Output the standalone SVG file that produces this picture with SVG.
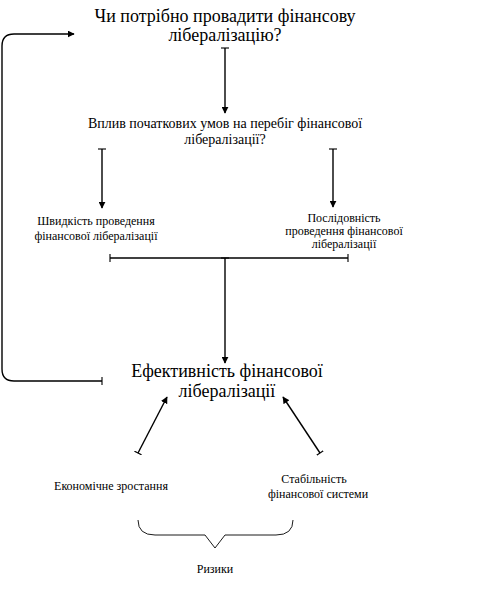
<svg xmlns="http://www.w3.org/2000/svg" width="477" height="599" viewBox="0 0 477 599" font-family="Liberation Serif, DejaVu Serif, serif">
<defs>
<marker id="ah" viewBox="0 0 10 10" refX="9" refY="5" markerWidth="7" markerHeight="7" markerUnits="userSpaceOnUse" orient="auto"><path d="M0,0 L10,5 L0,10 z" fill="#000"/></marker>
<marker id="tk" viewBox="0 0 2 10" refX="1" refY="5" markerWidth="2" markerHeight="8" markerUnits="userSpaceOnUse" orient="auto"><path d="M1,0 L1,10" stroke="#000" stroke-width="1.4"/></marker>
<style>
text{fill:#000;text-anchor:middle}
.big{font-size:18px}
.mid{font-size:14px}
.sm{font-size:12px}
.c{fill:none;stroke:#000;stroke-width:1.4}
</style>
</defs>
<rect width="477" height="599" fill="#fff"/>
<g id="connectors">
<path class="c" d="M225,48 L225,113" marker-start="url(#tk)" marker-end="url(#ah)"/>
<path class="c" d="M102,149 L102,208" marker-start="url(#tk)" marker-end="url(#ah)"/>
<path class="c" d="M333,149 L333,207" marker-start="url(#tk)" marker-end="url(#ah)"/>
<path class="c" d="M110,258 L348,258" marker-start="url(#tk)" marker-end="url(#tk)"/>
<path class="c" d="M225,258 L225,363" marker-start="url(#tk)" marker-end="url(#ah)"/>
<path class="c" d="M102,381 L14,381 Q2,381 2,369 L2,46 Q2,34 14,34 L74,34" marker-start="url(#tk)" marker-end="url(#ah)"/>
<path class="c" d="M138,453 L167,397" marker-start="url(#tk)" marker-end="url(#ah)"/>
<path class="c" d="M320,453 L283,397" marker-start="url(#tk)" marker-end="url(#ah)"/>
<path fill="none" stroke="#000" stroke-width="0.9" d="M138,520 Q138,535 155,535 L205,535 L215,548 L225,535 L276,535 Q293,535 293,520"/>
</g>
<g id="n1"><text class="big" x="225" y="22">Чи потрібно провадити фінансову</text><text class="big" x="225" y="41">лібералізацію?</text></g>
<g id="n2"><text class="mid" x="225" y="128">Вплив початкових умов на перебіг фінансової</text><text class="mid" x="225" y="144">лібералізації?</text></g>
<g id="n3"><text class="sm" x="96" y="225">Швидкість проведення</text><text class="sm" x="96" y="240">фінансової лібералізації</text></g>
<g id="n4"><text class="sm" x="344" y="222">Послідовність</text><text class="sm" x="344" y="235">проведення фінансової</text><text class="sm" x="344" y="248">лібералізації</text></g>
<g id="n5"><text class="big" x="227" y="377">Ефективність фінансової</text><text class="big" x="227" y="397">лібералізації</text></g>
<g id="n6"><text class="sm" x="111" y="490">Економічне зростання</text></g>
<g id="n7"><text class="sm" x="314" y="483">Стабільність</text><text class="sm" x="318" y="498">фінансової системи</text></g>
<g id="n8"><text class="sm" x="215" y="573">Ризики</text></g>
</svg>
